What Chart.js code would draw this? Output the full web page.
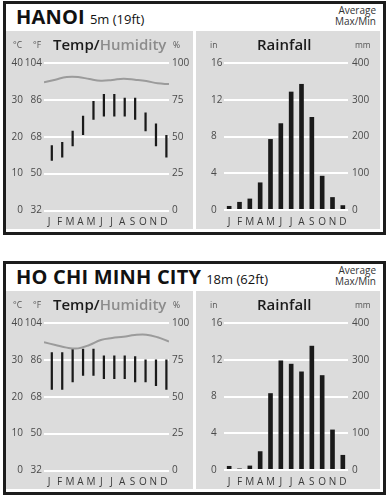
<!DOCTYPE html>
<html><head><meta charset="utf-8">
<script src="https://cdn.jsdelivr.net/npm/chart.js@4/dist/chart.umd.min.js"></script>
<style>
html,body{margin:0;padding:0;background:#fff;}
body{width:391px;height:500px;position:relative;overflow:hidden;font-family:"Open Sans",sans-serif;}
.block{position:absolute;left:3px;width:377px;height:228px;border:3px solid #1c1c1c;background:#fff;}
.title{position:absolute;left:10px;top:1px;line-height:24px;white-space:nowrap;color:#111;}
.title b{font-size:20px;font-weight:700;letter-spacing:0.2px;}
.title span{font-size:13px;font-weight:400;margin-left:5px;}
.avg{position:absolute;right:7px;top:1px;font-size:10px;line-height:11px;text-align:right;color:#333;}
.panel{position:absolute;top:27px;height:198px;background:#dcdcdc;}
.panel canvas{position:absolute;left:0;top:0;}
.ptitle{position:absolute;top:4px;font-size:15px;font-weight:600;line-height:18px;color:#1a1a1a;white-space:nowrap;}
.ptitle .hum{color:#8c8c8c;}
.unit{position:absolute;top:9px;font-size:8.5px;line-height:10px;color:#555;}
</style>
</head><body>

<div class="block" style="top:1px">
  <div class="title"><b>HANOI</b><span>5m (19ft)</span></div>
  <div class="avg">Average<br>Max/Min</div>
  <div class="panel" style="left:0;width:187px">
    <canvas id="t1" width="187" height="198"></canvas>
    <div class="ptitle" style="left:47px">Temp/<span class="hum">Humidity</span></div>
    <div class="unit" style="left:7px">°C</div>
    <div class="unit" style="left:27px">°F</div>
    <div class="unit" style="left:167px">%</div>
  </div>
  <div class="panel" style="left:190px;width:184px">
    <canvas id="r1" width="184" height="198"></canvas>
    <div class="ptitle" style="left:61px">Rainfall</div>
    <div class="unit" style="left:14px">in</div>
    <div class="unit" style="left:159px">mm</div>
  </div>
</div>

<div class="block" style="top:261px">
  <div class="title"><b>HO CHI MINH CITY</b><span>18m (62ft)</span></div>
  <div class="avg">Average<br>Max/Min</div>
  <div class="panel" style="left:0;width:187px">
    <canvas id="t2" width="187" height="198"></canvas>
    <div class="ptitle" style="left:47px">Temp/<span class="hum">Humidity</span></div>
    <div class="unit" style="left:7px">°C</div>
    <div class="unit" style="left:27px">°F</div>
    <div class="unit" style="left:167px">%</div>
  </div>
  <div class="panel" style="left:190px;width:184px">
    <canvas id="r2" width="184" height="198"></canvas>
    <div class="ptitle" style="left:61px">Rainfall</div>
    <div class="unit" style="left:14px">in</div>
    <div class="unit" style="left:159px">mm</div>
  </div>
</div>

<script>
const months = ["J","F","M","A","M","J","J","A","S","O","N","D"];

const hanoiTempMax = [17.7,18.6,21.6,25.7,29.7,31.6,31.6,30.6,30.6,26.6,23.6,20.5];
const hanoiTempMin = [13.5,14.4,17.4,20.5,24.6,25.5,25.5,25.5,24.6,21.5,17.4,14.4];
const hanoiHumidity = [86.9,88.7,90.5,90.5,89.1,88.0,88.5,89.4,88.7,87.8,86.2,85.7];
const hanoiRainMm = [11,22,31,75,193,236,322,343,253,93,35,13];

const hcmcTempMax = [32.1,32.1,33.0,33.0,33.0,31.2,31.2,31.2,31.0,30.1,30.1,30.1];
const hcmcTempMin = [21.9,21.9,23.9,25.7,25.7,24.8,24.8,24.8,23.9,23.9,22.9,21.9];
const hcmcHumidity = [86.9,85.1,83.3,82.8,85.1,88.5,89.8,90.7,91.9,92.1,90.3,87.4];
const hcmcRainMm = [11,4,12,51,209,298,289,268,338,258,110,41];

const celsiusTicks = [0,10,20,30,40];
const fahrenheitTicks = [32,50,68,86,104];
const humidityTicks = [0,25,50,75,100];
const inchTicks = [0,4,8,12,16];
const mmTicks = [0,100,200,300,400];

const tickFont = {family:"'Open Sans', sans-serif", size:10};
const tickColor = "#4a4a4a";
const barColor = "#1a1a1a";

function fixedTicks(values){
  return function(scale){ scale.ticks = values.map(v => ({value:v})); };
}

function tempChart(id, tmax, tmin, hum){
  new Chart(document.getElementById(id), {
    type:'bar',
    data:{
      labels: months,
      datasets:[
        {type:'line', data: hum.map((v,i)=>({x:i,y:v})), xAxisID:'xH', yAxisID:'yH', stack:'s',
         borderColor:'#9b9b9b', borderWidth:2, pointRadius:0, tension:0.4},
        {type:'bar', data: tmax.map((v,i)=>[tmin[i], v]), xAxisID:'x', yAxisID:'yC', stack:'s',
         backgroundColor:barColor, barPercentage:0.43, categoryPercentage:1}
      ]
    },
    options:{
      responsive:false, animation:false, devicePixelRatio:1,
      layout:{padding:{top:32,left:0,right:0,bottom:0}},
      plugins:{legend:{display:false}, tooltip:{enabled:false}},
      scales:{
        x:{type:'category', offset:true, grid:{display:false, drawTicks:false}, border:{display:false},
           ticks:{font:tickFont, color:'#3a3a3a', padding:6, maxRotation:0, autoSkip:false},
           afterFit:s=>{s.height=18.5;}},
        xH:{type:'linear', display:false, min:0, max:11, offset:false, grid:{offset:false}},
        yC:{position:'left', weight:10, min:0, max:40, stacked:false, grid:{display:false, drawTicks:false}, border:{display:false},
            ticks:{font:tickFont, color:tickColor, padding:2}, afterBuildTicks:fixedTicks(celsiusTicks),
            afterFit:s=>{s.width=19;}},
        yF:{position:'left', weight:5, min:32, max:104, grid:{display:false, drawTicks:false}, border:{display:false},
            ticks:{font:tickFont, color:tickColor, padding:2}, afterBuildTicks:fixedTicks(fahrenheitTicks),
            afterFit:s=>{s.width=19;}},
        yH:{position:'right', min:0, max:100, stacked:false, grid:{color:'#ffffff', lineWidth:2, drawTicks:false}, border:{display:false},
            ticks:{font:tickFont, color:tickColor, padding:3}, afterBuildTicks:fixedTicks(humidityTicks),
            afterFit:s=>{s.width=24;}}
      }
    }
  });
}

function rainChart(id, rain){
  new Chart(document.getElementById(id), {
    type:'bar',
    data:{
      labels: months,
      datasets:[
        {data: rain, yAxisID:'yMm', backgroundColor:barColor, barPercentage:0.45, categoryPercentage:1}
      ]
    },
    options:{
      responsive:false, animation:false, devicePixelRatio:1,
      layout:{padding:{top:32,left:15,right:0,bottom:0}},
      plugins:{legend:{display:false}, tooltip:{enabled:false}},
      scales:{
        x:{type:'category', offset:true, grid:{display:false, drawTicks:false}, border:{display:false},
           ticks:{font:tickFont, color:'#3a3a3a', padding:6, maxRotation:0, autoSkip:false},
           afterFit:s=>{s.height=19;}},
        yIn:{position:'left', min:0, max:16, grid:{display:false, drawTicks:false}, border:{display:false},
             ticks:{font:tickFont, color:tickColor, crossAlign:'far'}, afterBuildTicks:fixedTicks(inchTicks),
             afterFit:s=>{s.width=13;}},
        yMm:{position:'right', min:0, max:400, grid:{color:'#ffffff', lineWidth:2, drawTicks:false}, border:{display:false},
             ticks:{font:tickFont, color:tickColor, padding:4}, afterBuildTicks:fixedTicks(mmTicks),
             afterFit:s=>{s.width=32;}}
      }
    }
  });
}

tempChart('t1', hanoiTempMax, hanoiTempMin, hanoiHumidity);
rainChart('r1', hanoiRainMm);
tempChart('t2', hcmcTempMax, hcmcTempMin, hcmcHumidity);
rainChart('r2', hcmcRainMm);
</script>
</body></html>
